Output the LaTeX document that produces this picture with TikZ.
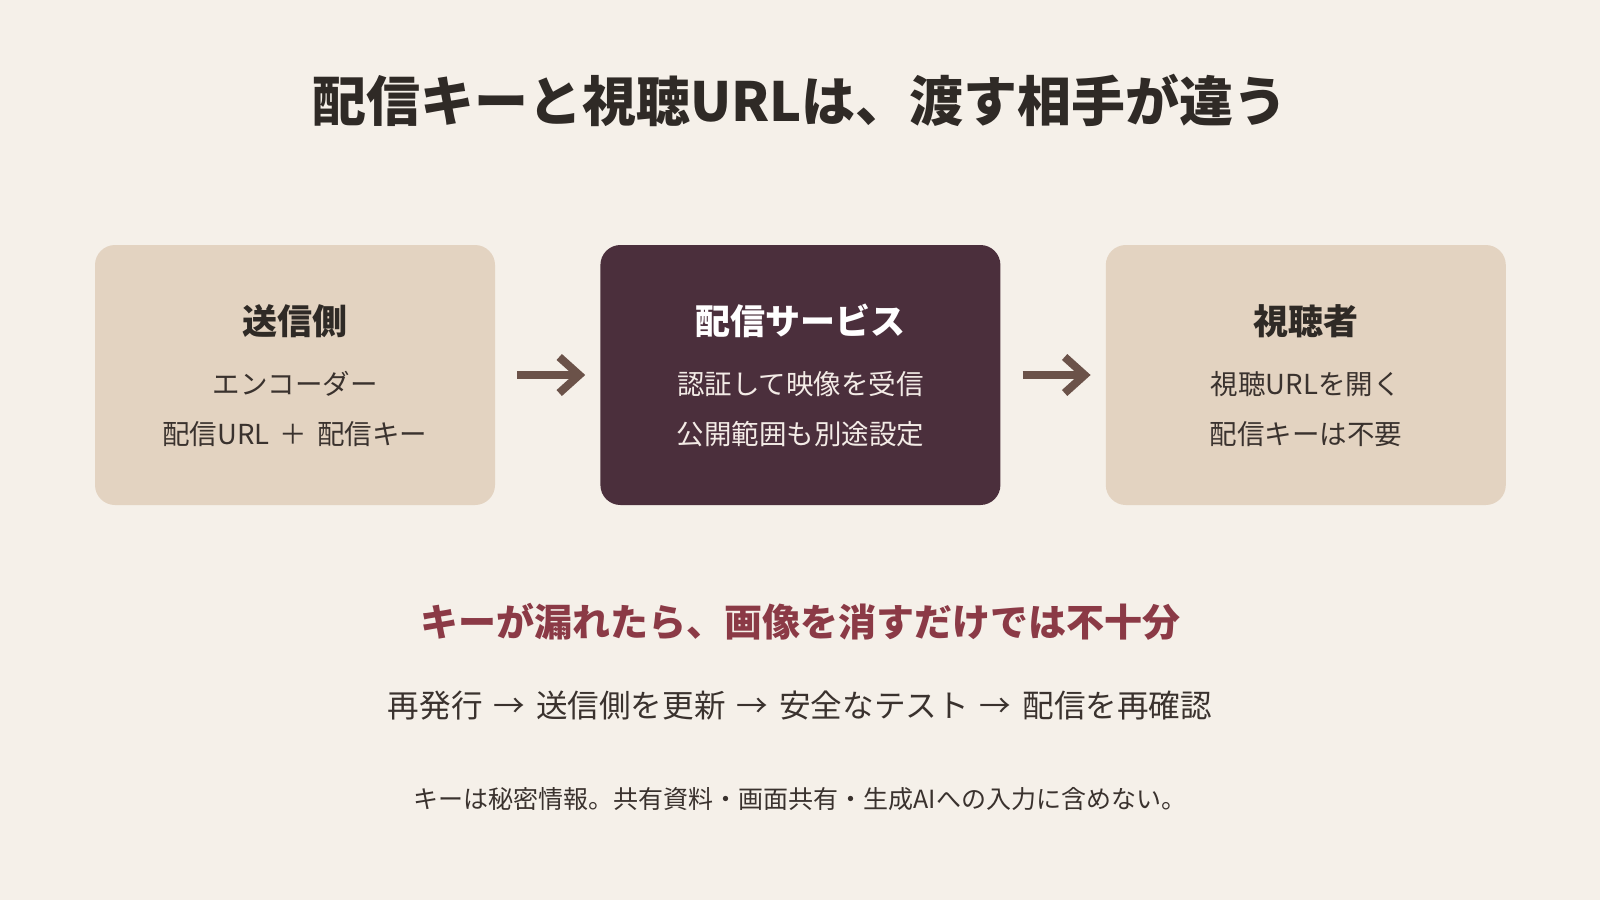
\documentclass[tikz,border=0pt]{standalone}
\usepackage{fontspec}
\setmainfont{Noto Sans CJK JP}
\usetikzlibrary{positioning,arrows.meta}

\definecolor{paper}{HTML}{F5F0E9}
\definecolor{sand}{HTML}{E3D3C1}
\definecolor{plum}{HTML}{4B2F3C}
\definecolor{ink}{HTML}{2F2A26}
\definecolor{inksoft}{HTML}{3A322E}
\definecolor{pale}{HTML}{F3EBE6}
\definecolor{wine}{HTML}{8B3A46}
\definecolor{arrowc}{HTML}{6B5249}

\newcommand\stepto{\hspace{11pt}→\hspace{11pt}}

\begin{document}
\begin{tikzpicture}[x=1pt,y=1pt,
  box/.style={rounded corners=20pt, minimum width=400pt, minimum height=260pt, inner sep=0pt},
  head/.style={font=\fontsize{35}{40}\selectfont\bfseries},
  body/.style={font=\fontsize{27.5}{32}\selectfont},
  flow/.style={line width=8pt, draw=arrowc, -{Straight Barb[length=20pt,width=36pt]}}]

% background
\fill[paper] (0,0) rectangle (1600,-900);
\useasboundingbox (0,0) rectangle (1600,-900);

% definitions
\node[box, fill=sand] (send) at (295,-375) {};
\node[box, fill=plum, right=105pt of send] (serv) {};
\node[box, fill=sand, right=105pt of serv] (view) {};

% arrows
\draw[flow] ([xshift=22pt]send.east) -- ([xshift=-15pt]serv.west);
\draw[flow] ([xshift=22pt]serv.east) -- ([xshift=-15pt]view.west);

% labels
\node[head, text=ink] (sendT) at ([yshift=54pt]send.center) {送信側};
\node[body, text=inksoft] (sendA) at ([yshift=-9pt]send.center) {エンコーダー};
\node[body, text=inksoft] (sendB) at ([yshift=-59pt]send.center) {配信URL\hspace{4pt} ＋ \hspace{4pt}配信キー};

\node[head, text=white] (servT) at ([yshift=54pt]serv.center) {配信サービス};
\node[body, text=pale] (servA) at ([yshift=-9pt]serv.center) {認証して映像を受信};
\node[body, text=pale] (servB) at ([yshift=-59pt]serv.center) {公開範囲も別途設定};

\node[head, text=ink] (viewT) at ([yshift=54pt]view.center) {視聴者};
\node[body, text=inksoft] (viewA) at ([yshift=-9pt]view.center) {視聴URLを開く};
\node[body, text=inksoft] (viewB) at ([yshift=-59pt]view.center) {配信キーは不要};

\node[text=ink, font=\fontsize{54}{60}\selectfont\bfseries] (title) at (800,-100) {配信キーと視聴URLは、渡す相手が違う};
\node[text=wine, font=\fontsize{38}{44}\selectfont\bfseries] (warn) at (800,-622) {キーが漏れたら、画像を消すだけでは不十分};
\node[text=inksoft, font=\fontsize{31.6}{36}\selectfont] (steps) at (800,-706) {再発行\stepto 送信側を更新\stepto 安全なテスト\stepto 配信を再確認};
\node[text=inksoft, font=\fontsize{25}{30}\selectfont] (note) at (800,-799) {キーは秘密情報。共有資料・画面共有・生成AIへの入力に含めない。};
\end{tikzpicture}
\end{document}
